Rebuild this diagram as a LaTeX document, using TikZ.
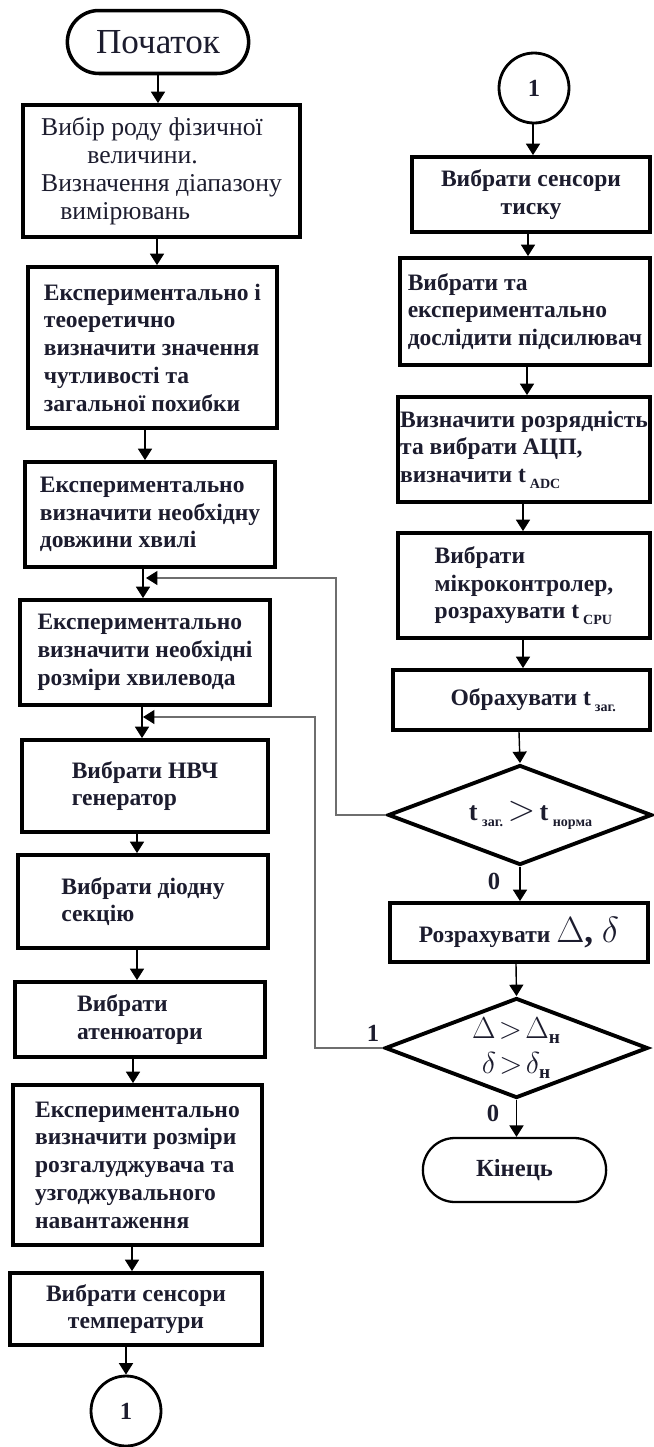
\documentclass[tikz,border=0pt]{standalone}
\usepackage{fontspec}
\setmainfont{Liberation Serif}
\usepackage{xcolor}
\usepackage{tikz}
\usetikzlibrary{shapes.geometric,shapes.misc,arrows.meta}
\definecolor{ink}{HTML}{1C1C2E}
\definecolor{loopline}{HTML}{6E6E6E}
\newcommand{\boxfont}{\fontsize{13.4}{15.8}\selectfont\bfseries}
\newcommand{\tidx}[1]{t\,\raisebox{-0.5ex}{\footnotesize #1}}
\newcommand{\subn}{\mbox{\fontsize{11}{11}\selectfont\bfseries н}}
\tikzset{
  box/.style={draw, line width=2.2pt, inner xsep=3pt, text=ink, font=\boxfont, align=left},
  term/.style={draw, rounded rectangle, text=ink},
  conn/.style={draw, circle, line width=1.6pt, minimum size=1.4cm, inner sep=0pt, text=ink, font=\fontsize{14}{14}\selectfont\bfseries},
  test/.style={draw, diamond, aspect=2.64, line width=2.2pt, inner sep=0pt, text=ink, align=center},
  arr/.style={line width=0.8pt, -{Triangle[length=6.5pt,width=8pt]}},
  back/.style={draw=loopline, line width=0.7pt, -{Triangle[length=6.5pt,width=8pt,color=black]}},
  lab/.style={text=ink, font=\fontsize{14}{14}\selectfont\bfseries},
}

\begin{document}
\begin{tikzpicture}[x=0.02cm, y=-0.02cm]
  \useasboundingbox (0,0) rectangle (653,1447);

  % left column
  \node[term, line width=2pt, minimum width=3.86cm, minimum height=1.26cm,
        font=\fontsize{20}{20}\selectfont] (start) at (158,42) {Початок};
  \node[box, minimum width=5.54cm, minimum height=2.64cm,
        font=\fontsize{14.6}{15.8}\selectfont] (b1) at (161.5,171)
    {Вибір роду фізичної\\\hspace*{1.8em}величини.\\Визначення діапазону\\\hspace*{0.75em}вимірювань};
  \node[box, minimum width=4.98cm, minimum height=3.22cm] (b2) at (152.5,347.5)
    {Експериментально і\\теоеретично\\визначити значення\\чутливості та\\загальної похибки};
  \node[box, minimum width=5cm, minimum height=2.1cm] (b3) at (150,514.5)
    {Експериментально\\визначити необхідну\\довжини хвилі};
  \node[box, minimum width=5cm, minimum height=2.1cm] (b4) at (145,652.5)
    {Експериментально\\визначити необхідні\\розміри хвилевода};
  \node[box, minimum width=4.92cm, minimum height=1.84cm] (b5) at (145,786)
    {Вибрати НВЧ\\генератор};
  \node[box, minimum width=5cm, minimum height=1.86cm] (b6) at (143,901.5)
    {Вибрати діодну\\секцію};
  \node[box, minimum width=5cm, minimum height=1.5cm] (b7) at (140,1019.5)
    {Вибрати\\атенюатори};
  \node[box, minimum width=4.98cm, minimum height=3.2cm] (b8) at (137.5,1165)
    {Експериментально\\визначити розміри\\розгалуджувача та\\узгоджувального\\навантаження};
  \node[box, align=center, minimum width=5.04cm, minimum height=1.44cm] (b9) at (136,1309)
    {Вибрати сенсори\\температури};
  \node[conn] (c1) at (126,1411) {1};

  \draw[arr] (start.south -| 158,0) -- (b1.north -| 158,0);
  \draw[arr] (b1.south -| 157,0) -- (b2.north -| 157,0);
  \draw[arr] (b2.south -| 145,0) -- (b3.north -| 145,0);
  \draw[arr] (b3.south -| 143,0) -- (b4.north -| 143,0);
  \draw[arr] (b4.south -| 142,0) -- (b5.north -| 142,0);
  \draw[arr] (b5.south -| 137,0) -- (b6.north -| 137,0);
  \draw[arr] (b6.south -| 137,0) -- (b7.north -| 137,0);
  \draw[arr] (b7.south -| 133,0) -- (b8.north -| 133,0);
  \draw[arr] (b8.south -| 132,0) -- (b9.north -| 132,0);
  \draw[arr] (b9.south -| 126,0) -- (c1.north);

  % right column
  \node[conn] (c2) at (534,88) {1};
  \node[box, align=center, minimum width=4.76cm, minimum height=1.5cm] (r1) at (531,194.5)
    {Вибрати сенсори\\тиску};
  \node[box, minimum width=5cm, minimum height=2.14cm] (r2) at (525,311.5)
    {Вибрати та\\експериментально\\дослідити підсилювач};
  \node[box, inner xsep=1pt, minimum width=5.04cm, minimum height=2.1cm] (r3) at (524,449.5)
    {Визначити розрядність\\та вибрати АЦП,\\визначити \tidx{ADC}};
  \node[box, minimum width=5.04cm, minimum height=2.1cm] (r4) at (524,585.5)
    {Вибрати\\мікроконтролер,\\розрахувати \tidx{CPU}};
  \node[box, minimum width=5.14cm, minimum height=1.2cm] (r5) at (521.5,700)
    {\hspace*{1em}Обрахувати \tidx{заг.}};
  \node[test, minimum width=5.28cm, minimum height=2cm, font=\fontsize{15}{15}\selectfont\bfseries] (d1) at (520,815)
    {\hspace*{0.8em}\tidx{заг.}\,{\fontsize{22}{22}\selectfont\mdseries$>$}\,\tidx{норма}};
  \node[box, minimum width=5.16cm, minimum height=1.18cm] (r6) at (519,932.5)
    {Розрахувати {\fontsize{20}{20}\selectfont$\Delta$, $\delta$}};
  \node[test, minimum width=5.26cm, minimum height=2cm, font=\fontsize{18.5}{20}\selectfont] (d2) at (516.5,1048)
    {$\Delta\!>\!\Delta_{\subn}$\\$\delta\!>\!\delta_{\subn}$};
  \node[term, line width=1.3pt, minimum width=3.9cm, minimum height=1.28cm,
        font=\fontsize{14}{14}\selectfont\bfseries] (end) at (514.5,1170) {Кінець};

  \draw[arr] (c2.south -| 533,0) -- (r1.north -| 533,0);
  \draw[arr] (r1.south -| 528,0) -- (r2.north -| 528,0);
  \draw[arr] (r2.south -| 527,0) -- (r3.north -| 527,0);
  \draw[arr] (r3.south -| 523,0) -- (r4.north -| 523,0);
  \draw[arr] (r4.south -| 523,0) -- (r5.north -| 523,0);
  \draw[arr] (r5.south -| 519,0) -- (d1.north);
  \draw[arr] (d1.south) -- (r6.north -| d1.south);
  \draw[arr] (r6.south -| 516,0) -- (d2.north);
  \draw[arr] (d2.south) -- (end.north -| d2.south);

  % branch labels
  \node[lab] (no1) at (494,881) {0};
  \node[lab] (yes2) at (373,1033) {1};
  \node[lab] (no2) at (493,1113) {0};

  % loops back into the left column
  \coordinate (j1) at (146,578);
  \coordinate (j2) at (143,717);
  \draw[back] (d1.west) -- ++(-50,0) |- (j1);
  \draw[back] (d2.west) -- ++(-68,0) |- (j2);
\end{tikzpicture}
\end{document}
